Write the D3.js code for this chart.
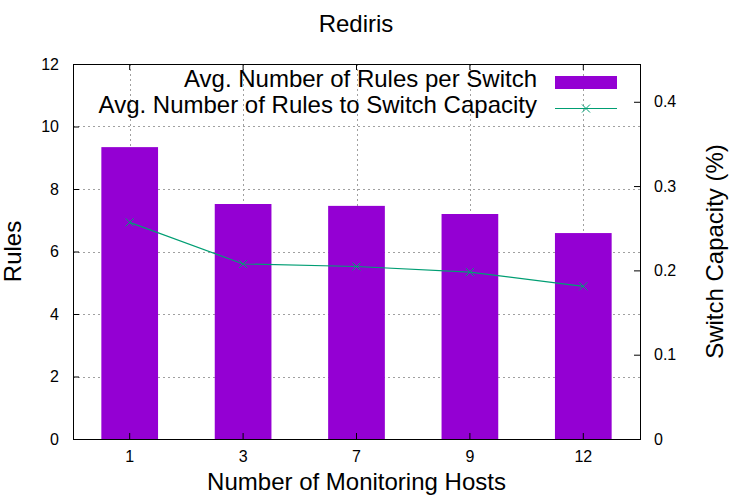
<!DOCTYPE html>
<html>
<head>
<meta charset="utf-8">
<script src="https://cdn.jsdelivr.net/npm/d3@7"></script>
<style>
  body { margin: 0; background: #fff; }
  text { font-family: "Liberation Sans", Arial, sans-serif; fill: #000; }
</style>
</head>
<body>
<div id="chart"></div>
<script>
// data
const hosts = ["1", "3", "7", "9", "12"];
const rulesPerSwitch = [9.34, 7.52, 7.46, 7.2, 6.59];
const rulesToCapacity = [0.257, 0.2076, 0.2046, 0.198, 0.1811];
const leftTicks = [0, 2, 4, 6, 8, 10, 12];
const rightTicks = [0, 0.1, 0.2, 0.3, 0.4];

const width = 750, height = 500;
const margin = { left: 73, right: 110, top: 64, bottom: 61 };
const innerW = width - margin.left - margin.right;
const innerH = height - margin.top - margin.bottom;

const barColor = "#9400d3";
const lineColor = "#009e73";
const gridColor = "#a0a0a0";

const svg = d3.select("#chart").append("svg")
  .attr("width", width)
  .attr("height", height);

const g = svg.append("g")
  .attr("transform", `translate(${margin.left},${margin.top})`);

const x = d3.scaleBand()
  .domain(hosts)
  .range([0, innerW])
  .paddingInner(0.5)
  .paddingOuter(0.25);

const y = d3.scaleLinear().domain([0, 12]).range([innerH, 0]);
const y2 = d3.scaleLinear().domain([0, 0.4448]).range([innerH, 0]);

// grid (behind bars)
const grid = g.append("g")
  .attr("stroke", gridColor)
  .attr("stroke-width", 1)
  .attr("stroke-dasharray", "2,3");
grid.selectAll(".hgrid")
  .data(leftTicks.filter(d => d > 0 && d < 12))
  .join("line")
  .attr("x1", 0).attr("x2", innerW)
  .attr("y1", d => Math.round(y(d)) + 0.5)
  .attr("y2", d => Math.round(y(d)) + 0.5);
grid.selectAll(".vgrid")
  .data(hosts)
  .join("line")
  .attr("x1", d => Math.round(x(d) + x.bandwidth() / 2) + 0.5)
  .attr("x2", d => Math.round(x(d) + x.bandwidth() / 2) + 0.5)
  .attr("y1", 0).attr("y2", innerH);

// bars
g.selectAll(".bar")
  .data(rulesPerSwitch)
  .join("rect")
  .attr("class", "bar")
  .attr("x", (d, i) => x(hosts[i]))
  .attr("width", x.bandwidth())
  .attr("y", d => y(d))
  .attr("height", d => innerH - y(d))
  .attr("fill", barColor);

// line on the right axis
const cx = (d, i) => x(hosts[i]) + x.bandwidth() / 2;
g.append("path")
  .datum(rulesToCapacity)
  .attr("fill", "none")
  .attr("stroke", lineColor)
  .attr("stroke-width", 1.2)
  .attr("d", d3.line().x(cx).y(d => y2(d)));

const cross = (sel, s) => sel.append("path")
  .attr("d", `M${-s},${-s}L${s},${s}M${-s},${s}L${s},${-s}`)
  .attr("stroke", lineColor)
  .attr("stroke-width", 1)
  .attr("fill", "none");

g.selectAll(".pt")
  .data(rulesToCapacity)
  .join("g")
  .attr("class", "pt")
  .attr("transform", (d, i) => `translate(${cx(d, i)},${y2(d)})`)
  .each(function () { cross(d3.select(this), 4); });

// axes: inward ticks, gnuplot style
const axisLeft = g.append("g")
  .call(d3.axisLeft(y).tickValues(leftTicks).tickSizeInner(-6).tickSizeOuter(0).tickPadding(14));
const axisRight = g.append("g")
  .attr("transform", `translate(${innerW},0)`)
  .call(d3.axisRight(y2).tickValues(rightTicks).tickFormat(d3.format("")).tickSizeInner(-6).tickSizeOuter(0).tickPadding(14));
const axisBottom = g.append("g")
  .attr("transform", `translate(0,${innerH})`)
  .call(d3.axisBottom(x).tickSizeInner(-6).tickSizeOuter(0).tickPadding(12));
const axisTop = g.append("g")
  .call(d3.axisTop(x).tickSizeInner(-6).tickSizeOuter(0).tickFormat(""));

[axisLeft, axisRight, axisBottom, axisTop].forEach(a => {
  a.select(".domain").remove();
  a.selectAll("text").attr("font-family", "Liberation Sans, Arial, sans-serif")
    .attr("font-size", 16).attr("fill", "#000");
  a.selectAll("line").attr("stroke", "#000");
});

// border
g.append("rect")
  .attr("x", 0.5).attr("y", 0.5)
  .attr("width", innerW).attr("height", innerH)
  .attr("fill", "none")
  .attr("stroke", "#000")
  .attr("stroke-width", 1);

// titles
svg.append("text")
  .attr("x", 356).attr("y", 32)
  .attr("text-anchor", "middle")
  .attr("font-size", 24)
  .text("Rediris");

svg.append("text")
  .attr("x", margin.left + innerW / 2).attr("y", 490)
  .attr("text-anchor", "middle")
  .attr("font-size", 24)
  .text("Number of Monitoring Hosts");

svg.append("text")
  .attr("transform", `translate(21,${margin.top + innerH / 2}) rotate(-90)`)
  .attr("text-anchor", "middle")
  .attr("font-size", 24)
  .text("Rules");

svg.append("text")
  .attr("transform", `translate(723,${margin.top + innerH / 2}) rotate(-90)`)
  .attr("text-anchor", "middle")
  .attr("font-size", 24)
  .text("Switch Capacity (%)");

// legend
const legend = svg.append("g");
const legendItems = [
  { label: "Avg. Number of Rules per Switch", y: 87 },
  { label: "Avg. Number of Rules to Switch Capacity", y: 113 }
];
legend.selectAll("text")
  .data(legendItems)
  .join("text")
  .attr("x", 537).attr("y", d => d.y)
  .attr("text-anchor", "end")
  .attr("font-size", 24)
  .text(d => d.label);

legend.append("rect")
  .attr("x", 555).attr("y", 76)
  .attr("width", 62).attr("height", 13)
  .attr("fill", barColor);
legend.append("line")
  .attr("x1", 555).attr("x2", 617)
  .attr("y1", 108.5).attr("y2", 108.5)
  .attr("stroke", lineColor)
  .attr("stroke-width", 1.2);
legend.append("g")
  .attr("transform", "translate(586,108.5)")
  .call(sel => cross(sel, 4));
</script>
</body>
</html>
